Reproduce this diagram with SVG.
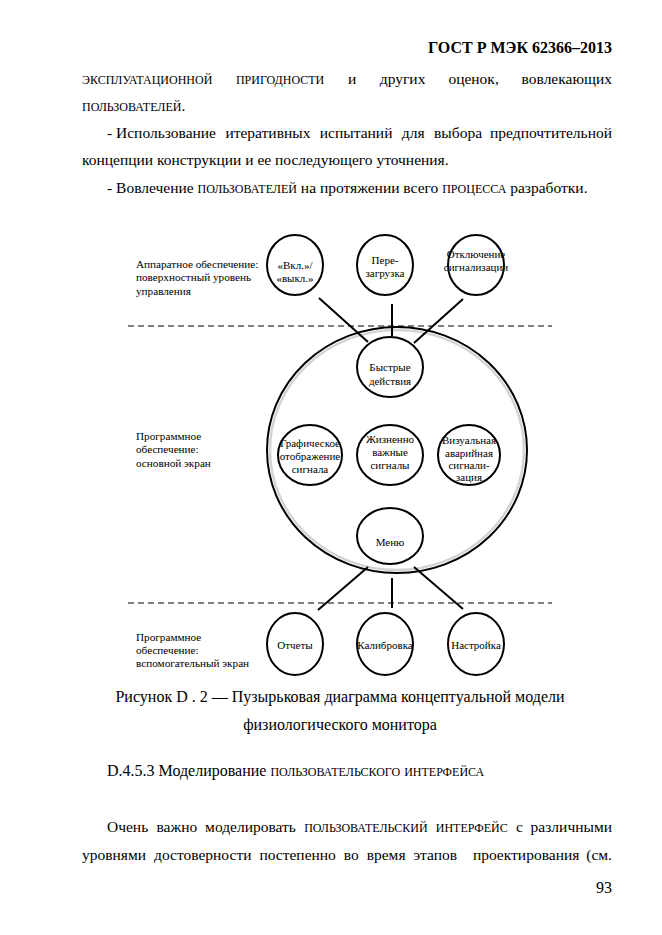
<svg xmlns="http://www.w3.org/2000/svg" width="662" height="935" viewBox="0 0 662 935">
<style>
.t{font-family:"Liberation Serif","Times New Roman",serif;font-size:16px;fill:#000}
.b{font-size:15.5px}
.e{text-anchor:end}
.m{text-anchor:middle}
.sc{font-size:12px}
.h{font-family:"Liberation Serif","Times New Roman",serif;font-size:16px;font-weight:bold;fill:#000}
.d{font-family:"Liberation Serif","Times New Roman",serif;font-size:11.2px;fill:#000}
.n{font-family:"Liberation Serif","Times New Roman",serif;font-size:11px;fill:#000;text-anchor:middle}
.c{fill:#fff;stroke:#000;stroke-width:2}
.ln{stroke:#000;stroke-width:2;fill:none}
.dash{stroke:#000;stroke-width:1;stroke-dasharray:6 4;fill:none}
</style>
<rect width="662" height="935" fill="#fff"/>
<text class="h e" x="612" y="53">ГОСТ Р МЭК 62366–2013</text>
<g id="para1">
<text class="t b" x="82" y="84"><tspan class="sc">ЭКСПЛУАТАЦИОННОЙ</tspan><tspan class="sc" dx="23.6">ПРИГОДНОСТИ</tspan><tspan dx="23.6">и</tspan><tspan dx="23.6">других</tspan><tspan dx="23.6">оценок,</tspan></text>
<text class="t b e" x="612" y="84">вовлекающих</text>
<text class="t b" x="82" y="111"><tspan class="sc">ПОЛЬЗОВАТЕЛЕЙ</tspan>.</text>
<text class="t b" x="107" y="138">- Использование<tspan dx="9.4">итеративных</tspan><tspan dx="9.4">испытаний</tspan><tspan dx="9.4">для</tspan><tspan dx="9.4">выбора</tspan></text>
<text class="t b e" x="612" y="138">предпочтительной</text>
<text class="t b" x="82" y="165">концепции конструкции и ее последующего уточнения.</text>
<text class="t b" x="107" y="193">- Вовлечение <tspan class="sc">ПОЛЬЗОВАТЕЛЕЙ</tspan> на протяжении всего <tspan class="sc">ПРОЦЕССА</tspan> разработки.</text>
</g>

<g id="labels">
<text class="d" x="136" y="268">Аппаратное обеспечение:</text>
<text class="d" x="136" y="281">поверхностный уровень</text>
<text class="d" x="136" y="295">управления</text>
<text class="d" x="136" y="440">Программное</text>
<text class="d" x="136" y="453">обеспечение:</text>
<text class="d" x="136" y="467">основной экран</text>
<text class="d" x="136" y="641">Программное</text>
<text class="d" x="136" y="654">обеспечение:</text>
<text class="d" x="136" y="667">вспомогательный экран</text>
</g>

<g id="separators">
<line class="dash" x1="128" y1="326" x2="552" y2="326"/>
<line class="dash" x1="128" y1="603" x2="552" y2="603"/>
</g>

<g id="main-screen">
<ellipse cx="397" cy="450" rx="130" ry="123" fill="#fff" stroke="#000" stroke-width="2"/>
<ellipse cx="397" cy="450" rx="127" ry="120" fill="none" stroke="#d4d4d4" stroke-width="2.5"/>
</g>

<g id="connectors">
<line class="ln" x1="319" y1="298" x2="368" y2="342"/>
<line class="ln" x1="392" y1="304" x2="392" y2="336"/>
<line class="ln" x1="463" y1="299" x2="414" y2="343"/>
<line class="ln" x1="368" y1="567" x2="318" y2="610"/>
<line class="ln" x1="392" y1="578" x2="392" y2="608"/>
<line class="ln" x1="414" y1="567" x2="463" y2="609"/>
</g>

<g id="n-onoff"><ellipse class="c" cx="295" cy="265" rx="28" ry="30"/><text class="n" x="295" y="269">«Вкл.»/</text><text class="n" x="295" y="282">«выкл.»</text></g>
<g id="n-reboot"><ellipse class="c" cx="385" cy="265" rx="28" ry="30"/><text class="n" x="385" y="264">Пере-</text><text class="n" x="385" y="277">загрузка</text></g>
<g id="n-alarmoff"><ellipse class="c" cx="476" cy="265" rx="28" ry="30"/><text class="n" x="476" y="258">Отключение</text><text class="n" x="476" y="271">сигнализации</text></g>

<g id="n-quick"><ellipse class="c" cx="390" cy="367" rx="33" ry="30"/><text class="n" x="390" y="371">Быстрые</text><text class="n" x="390" y="385">действия</text></g>
<g id="n-graph"><ellipse class="c" cx="310" cy="455" rx="32" ry="30"/><text class="n" x="310" y="447">Графическое</text><text class="n" x="310" y="460">отображение</text><text class="n" x="310" y="473">сигнала</text></g>
<g id="n-vital"><ellipse class="c" cx="390" cy="455" rx="33" ry="30"/><text class="n" x="390" y="443">Жизненно</text><text class="n" x="390" y="456">важные</text><text class="n" x="390" y="469">сигналы</text></g>
<g id="n-visual"><ellipse class="c" cx="469" cy="455" rx="31" ry="30"/><text class="n" x="469" y="444">Визуальная</text><text class="n" x="469" y="457">аварийная</text><text class="n" x="469" y="469">сигнали-</text><text class="n" x="469" y="481">зация</text></g>
<g id="n-menu"><ellipse class="c" cx="390" cy="536" rx="33" ry="28"/><text class="n" x="390" y="546">Меню</text></g>

<g id="n-reports"><ellipse class="c" cx="295" cy="644" rx="28" ry="31"/><text class="n" x="295" y="649">Отчеты</text></g>
<g id="n-calib"><ellipse class="c" cx="385" cy="644" rx="28" ry="31"/><text class="n" x="385" y="649">Калибровка</text></g>
<g id="n-setup"><ellipse class="c" cx="476" cy="644" rx="28" ry="31"/><text class="n" x="476" y="649">Настройка</text></g>

<text class="t m" x="340" y="702">Рисунок  D . 2  — Пузырьковая диаграмма концептуальной модели</text>
<text class="t m" x="340" y="730">физиологического монитора</text>
<text class="t" x="107" y="776">D.4.5.3 Моделирование <tspan class="sc">ПОЛЬЗОВАТЕЛЬСКОГО</tspan> <tspan class="sc">ИНТЕРФЕЙСА</tspan></text>
<g id="para2">
<text class="t b" x="107" y="832">Очень<tspan dx="8.2">важно</tspan><tspan dx="8.2">моделировать</tspan><tspan class="sc" dx="8.2">ПОЛЬЗОВАТЕЛЬСКИЙ</tspan><tspan class="sc" dx="8.2">ИНТЕРФЕЙС</tspan><tspan dx="8.2">с</tspan></text>
<text class="t b e" x="612" y="832">различными</text>
<text class="t b" x="82" y="860">уровнями<tspan dx="7.9">достоверности</tspan><tspan dx="7.9">постепенно</tspan><tspan dx="7.9">во</tspan><tspan dx="7.9">время</tspan><tspan dx="7.9">этапов</tspan><tspan dx="15.8">проектирования</tspan></text>
<text class="t b e" x="612" y="860">(см.</text>
</g>
<text class="t e" x="612" y="893">93</text>
</svg>
